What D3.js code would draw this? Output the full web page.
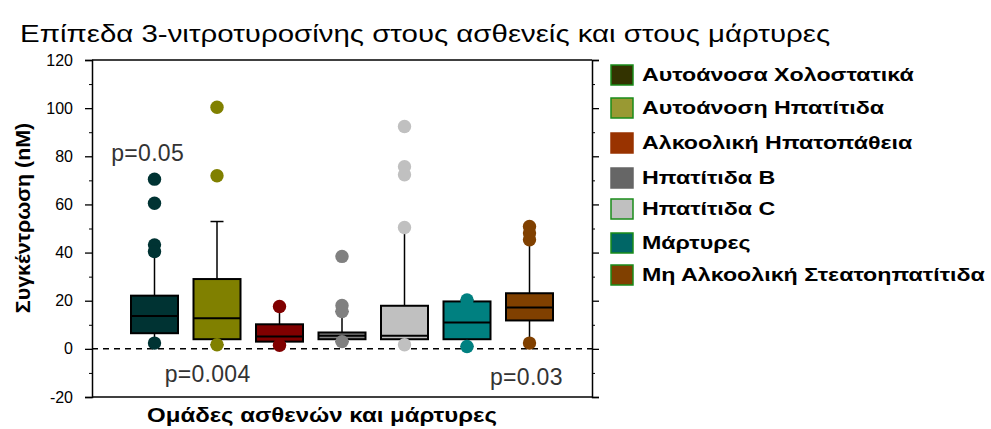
<!DOCTYPE html>
<html><head><meta charset="utf-8">
<script src="https://cdn.jsdelivr.net/npm/d3@7"></script>
<style>
html,body{margin:0;padding:0;background:#fff;}
svg{display:block;font-family:"Liberation Sans",Arial,sans-serif;}
</style></head>
<body>
<svg id="chart" width="991" height="429"></svg>
<script>
const title = "Επίπεδα 3-νιτροτυροσίνης στους ασθενείς και στους μάρτυρες";
const yLabel = "Συγκέντρωση (nM)";
const xLabel = "Ομάδες ασθενών και μάρτυρες";
const groups = ["Αυτοάνοσα Χολοστατικά","Αυτοάνοση Ηπατίτιδα","Αλκοολική Ηπατοπάθεια","Ηπατίτιδα B","Ηπατίτιδα C","Μάρτυρες","Μη Αλκοολική Στεατοηπατίτιδα"];
const q1 = [6.5, 4.0, 3.0, 4.0, 4.0, 4.0, 11.8];
const median = [13.7, 12.7, 5.1, 5.4, 5.4, 10.9, 17.2];
const q3 = [22.1, 29.0, 10.2, 6.8, 17.9, 19.7, 23.1];
const whiskerLow = [2.4, 1.7, 1.5, 3.0, 1.7, 1.0, 2.4];
const whiskerHigh = [40.4, 52.9, 17.6, 15.5, 50.4, 20.3, 45.3];
const outliers = [
  [70.5, 60.5, 43.2, 40.4, 2.4],
  [100.4, 71.9, 1.7],
  [17.6, 1.5],
  [38.4, 18.0, 15.5, 3.0],
  [92.4, 75.7, 72.3, 50.4, 1.7],
  [20.3, 1.0],
  [50.8, 48.1, 45.3, 2.4]
];
const yTicks = [-20, 0, 20, 40, 60, 80, 100, 120];
const yMinorTicks = [-10, 10, 30, 50, 70, 90, 110];
const pLabels = ["p=0.05", "p=0.004", "p=0.03"];
const pLabelY = [78, -13.6, -15];
const pLabelPos = [-0.11, 0.85, 5.95];   // position in group-index units
const boxColors = ["#003333", "#808000", "#800000", "#808080", "#c0c0c0", "#008080", "#804000"];
const legendColors = ["#333300", "#999933", "#993300", "#666666", "#c0c0c0", "#006666", "#804000"];

const svg = d3.select("#chart");
const L = 92, R = 592, T = 60, B = 397;

const x = d3.scalePoint().domain(d3.range(groups.length)).range([L, R]).padding(1);
const xIdx = d3.scaleLinear().domain([-1, groups.length]).range([L, R]);
const y = d3.scaleLinear().domain([-20, 120]).range([B, T]);
const boxW = 47, capW = 13, dotR = 6.7;

function stretchedText(parent, tx, ty, sx, str) {
  return parent.append("text").attr("transform", `translate(${tx},${ty}) scale(${sx},1)`).text(str);
}

// Title
stretchedText(svg, 20, 42, 1.28, title).attr("font-size", 23).attr("fill", "#000");

// Frame
svg.append("line").attr("x1", L).attr("x2", R).attr("y1", T).attr("y2", T).attr("stroke", "#000").attr("stroke-width", 1.5);
svg.append("line").attr("x1", L).attr("x2", R).attr("y1", B).attr("y2", B).attr("stroke", "#000").attr("stroke-width", 1.5);

// Left axis
const leftAxis = d3.axisLeft(y).tickValues(yTicks).tickSize(7).tickPadding(12).tickFormat(d => d);
const gl = svg.append("g").attr("transform", `translate(${L},0)`).call(leftAxis);
gl.select(".domain").attr("stroke-width", 1.5);
gl.selectAll(".tick line").attr("stroke-width", 1.3);
gl.selectAll("text").attr("font-size", 16).attr("font-family", "Liberation Sans, Arial, sans-serif").attr("fill", "#000");
const glm = svg.append("g").attr("transform", `translate(${L},0)`).call(d3.axisLeft(y).tickValues(yMinorTicks).tickSize(3).tickFormat(""));
glm.select(".domain").remove();

// Right axis
const gr = svg.append("g").attr("transform", `translate(${R},0)`).call(d3.axisRight(y).tickValues(yTicks).tickSize(7).tickFormat(""));
gr.select(".domain").attr("stroke-width", 1.5);
gr.selectAll(".tick line").attr("stroke-width", 1.3);
const grm = svg.append("g").attr("transform", `translate(${R},0)`).call(d3.axisRight(y).tickValues(yMinorTicks).tickSize(3).tickFormat(""));
grm.select(".domain").remove();

// zero dashed line
svg.append("line").attr("x1", L).attr("x2", R).attr("y1", y(0)).attr("y2", y(0))
  .attr("stroke", "#000").attr("stroke-width", 1.5).attr("stroke-dasharray", "6,5");

// Boxes
const gBoxes = svg.append("g");
groups.forEach((g, i) => {
  const cx = x(i);
  const gg = gBoxes.append("g");
  gg.append("line").attr("x1", cx).attr("x2", cx).attr("y1", y(whiskerLow[i])).attr("y2", y(whiskerHigh[i]))
    .attr("stroke", "#000").attr("stroke-width", 1.5);
  [whiskerLow[i], whiskerHigh[i]].forEach(v => {
    gg.append("line").attr("x1", cx - capW / 2).attr("x2", cx + capW / 2).attr("y1", y(v)).attr("y2", y(v))
      .attr("stroke", "#000").attr("stroke-width", 1.5);
  });
  gg.append("rect").attr("x", cx - boxW / 2).attr("width", boxW)
    .attr("y", y(q3[i])).attr("height", y(q1[i]) - y(q3[i]))
    .attr("fill", boxColors[i]).attr("stroke", "#000").attr("stroke-width", 2);
  gg.append("line").attr("x1", cx - boxW / 2).attr("x2", cx + boxW / 2).attr("y1", y(median[i])).attr("y2", y(median[i]))
    .attr("stroke", "#000").attr("stroke-width", 2);
  gg.selectAll("circle").data(outliers[i]).join("circle")
    .attr("cx", cx).attr("cy", d => y(d)).attr("r", dotR).attr("fill", boxColors[i]);
});

// p-values
pLabels.forEach((t, i) => {
  svg.append("text").attr("x", xIdx(pLabelPos[i])).attr("y", y(pLabelY[i]))
    .attr("font-size", 23).attr("fill", "#333").attr("letter-spacing", 0.3)
    .attr("text-anchor", "middle").text(t);
});

// axis labels
svg.append("text").attr("transform", `translate(30,218) rotate(-90) scale(1.07,1)`)
  .attr("text-anchor", "middle").attr("font-size", 20).attr("font-weight", "bold").text(yLabel);
stretchedText(svg, 322, 422, 1.2, xLabel).attr("text-anchor", "middle")
  .attr("font-size", 20).attr("font-weight", "bold");

// legend
const legY = [75, 108, 143, 178, 209, 243, 275];
const lg = svg.append("g");
groups.forEach((g, i) => {
  lg.append("rect").attr("x", 611).attr("y", legY[i] - 10).attr("width", 22).attr("height", 20)
    .attr("fill", legendColors[i]).attr("stroke", (i === 2 || i === 3) ? legendColors[i] : "#1a8c1a").attr("stroke-width", 1.5);
  stretchedText(lg, 642, legY[i] + 6, 1.29, g).attr("font-size", 18).attr("font-weight", "bold");
});
</script>
</body></html>
